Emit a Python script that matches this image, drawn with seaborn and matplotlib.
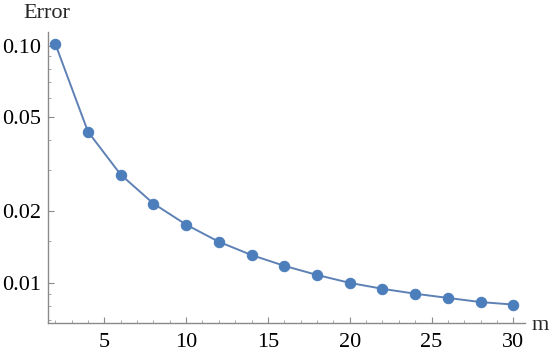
import numpy as np
import pandas as pd
import matplotlib.pyplot as plt
import seaborn as sns
from matplotlib.ticker import FixedLocator, NullFormatter

# values (log-scaled y)
m_values = [2, 4, 6, 8, 10, 12, 14, 16, 18, 20, 22, 24, 26, 28, 30]
error_values = [0.102, 0.0434, 0.0286, 0.0216, 0.0176, 0.0149, 0.0131, 0.0118,
                0.0108, 0.0100, 0.00944, 0.0090, 0.00864, 0.0083, 0.0081]

y_major = [0.01, 0.02, 0.05, 0.10]
y_major_labels = ["0.01", "0.02", "0.05", "0.10"]
y_minor = [0.007, 0.008, 0.009, 0.015, 0.03, 0.04, 0.06, 0.07, 0.08, 0.09]
x_major = [5, 10, 15, 20, 25, 30]

df = pd.DataFrame({"m": m_values, "Error": error_values})

sns.set_style("ticks")
plt.rcParams['font.family'] = ['Liberation Serif', 'DejaVu Serif']

fig = plt.figure(figsize=(5.5, 3.51), dpi=100)
ax = fig.add_axes([0.0873, 0.08, 0.867, 0.83])

blue = "#4C7EBC"
sns.lineplot(data=df, x="m", y="Error", ax=ax, color="#5E81B5", linewidth=1.4,
             marker="o", markersize=7.5, markerfacecolor=blue,
             markeredgecolor=blue)

ax.set_yscale("log")
ax.set_xlim(1.56, 30.7)
ax.set_ylim(0.00678, 0.1146)

ax.yaxis.set_major_locator(FixedLocator(y_major))
ax.set_yticklabels(y_major_labels)
ax.yaxis.set_minor_locator(FixedLocator(y_minor))
ax.yaxis.set_minor_formatter(NullFormatter())
ax.xaxis.set_major_locator(FixedLocator(x_major))
ax.xaxis.set_minor_locator(FixedLocator(list(range(2, 31))))

for s in ["top", "right"]:
    ax.spines[s].set_visible(False)
for s in ["left", "bottom"]:
    ax.spines[s].set_color("#8a8a8a")
    ax.spines[s].set_linewidth(1.0)

ax.tick_params(which="major", direction="in", length=4, width=0.8,
               color="#8a8a8a", labelsize=16, labelcolor="black")
ax.tick_params(axis="x", which="major", pad=7)
ax.tick_params(axis="y", which="major", pad=5)
ax.tick_params(which="minor", direction="in", length=2.2, width=0.6,
               color="#9a9a9a")

ax.set_xlabel("")
ax.set_ylabel("")
fig.text(0.0855, 0.962, "Error", fontsize=16, ha="center", va="center")
fig.text(0.966, 0.072, "m", fontsize=16, ha="left", va="center")

fig.savefig("out.png", dpi=100)
